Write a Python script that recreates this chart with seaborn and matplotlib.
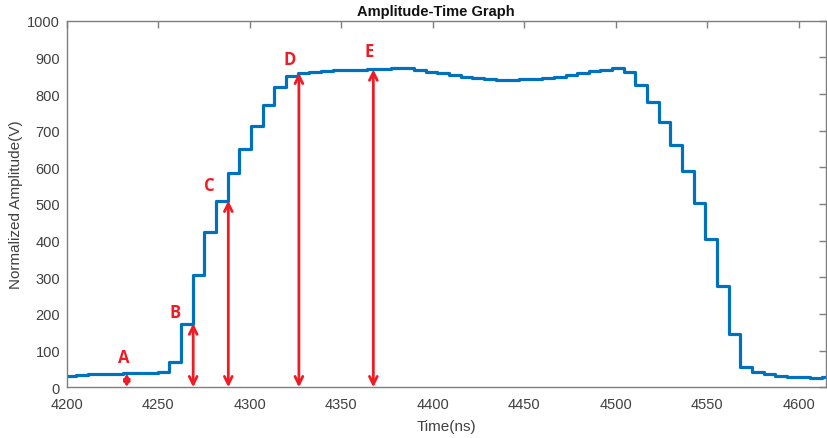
import matplotlib
matplotlib.use("Agg")
import matplotlib.pyplot as plt
from matplotlib import font_manager
import seaborn as sns
import pandas as pd

# ---- data ----
time_ns = [4198.7, 4205.0, 4211.4, 4217.8, 4224.2, 4230.5, 4236.9, 4243.3, 4249.6,
           4256.0, 4262.4, 4268.7, 4275.1, 4281.5, 4287.9, 4294.2, 4300.6, 4307.0,
           4313.3, 4319.7, 4326.1, 4332.4, 4338.8, 4345.2, 4351.6, 4357.9, 4364.3,
           4370.7, 4377.0, 4383.4, 4389.8, 4396.1, 4402.5, 4408.9, 4415.3, 4421.6,
           4428.0, 4434.4, 4440.7, 4447.1, 4453.5, 4459.8, 4466.2, 4472.6, 4479.0,
           4485.3, 4491.7, 4498.1, 4504.4, 4510.8, 4517.2, 4523.5, 4529.9, 4536.3,
           4542.7, 4549.0, 4555.4, 4561.8, 4568.1, 4574.5, 4580.9, 4587.2, 4593.6,
           4600.0, 4606.4, 4612.7, 4619.1]
amplitude = [31, 33, 35, 36, 37, 38, 39, 40, 41,
             69, 174, 306, 423, 509, 584, 650, 713, 771,
             820, 850, 858, 860, 862, 865, 866, 866, 867,
             869, 872, 870, 865, 861, 857, 852, 847, 843,
             840, 838, 839, 841, 842, 843, 846, 852, 857,
             862, 866, 870, 859, 825, 779, 724, 661, 589,
             504, 404, 277, 145, 54, 41, 36, 32, 28,
             27, 26, 29, 29]

marker_labels = ["A", "B", "C", "D", "E"]
marker_x = [4232.7, 4269.0, 4288.2, 4326.8, 4367.5]
marker_top = [38, 174, 509, 858, 867]

x_ticks = [4200, 4250, 4300, 4350, 4400, 4450, 4500, 4550, 4600]
y_ticks = [0, 100, 200, 300, 400, 500, 600, 700, 800, 900, 1000]

title = "Amplitude-Time Graph"
x_label = "Time(ns)"
y_label = "Normalized Amplitude(V)"

# label offsets (points) relative to arrow tip - styling only
label_offsets = [(-2, 12), (-13, 8), (-14, 11), (-6.5, 10), (-3, 13)]
head_scales = [9, 14, 14, 14, 14]

# ---- style ----
sns.set_style("white")
names = {f.name for f in font_manager.fontManager.ttflist}
base_font = "Liberation Sans Narrow" if "Liberation Sans Narrow" in names else "Liberation Sans"
plt.rcParams["font.family"] = [base_font, "DejaVu Sans"]

line_color = "#0072BD"
red = "#EE1C25"
axis_gray = "#7F7F7F"
text_gray = "#404040"

fig = plt.figure(figsize=(8.27, 4.39), dpi=100)
ax = fig.add_axes([0.081, 0.1155, 0.9178, 0.8351])

df = pd.DataFrame({"time": time_ns, "amp": amplitude})
sns.lineplot(data=df, x="time", y="amp", ax=ax, color=line_color, linewidth=2.3,
             drawstyle="steps-post", estimator=None, sort=False)

for lab, xm, top, off, hs in zip(marker_labels, marker_x, marker_top, label_offsets, head_scales):
    ax.annotate("", xy=(xm, top), xytext=(xm, 0),
                arrowprops=dict(arrowstyle="<->", color=red, lw=2,
                                shrinkA=0, shrinkB=0, mutation_scale=hs))
    ax.annotate(lab, xy=(xm, top), xytext=off,
                textcoords="offset points", ha="center", va="center",
                color=red, fontsize=12, fontweight="bold",
                family=["Open Sans", "DejaVu Sans"])

ax.set_xlim(4200, 4615)
ax.set_ylim(0, 1000)
ax.set_xticks(x_ticks)
ax.set_yticks(y_ticks)
ax.tick_params(direction="in", length=5, width=1, color=axis_gray,
               labelcolor=text_gray, labelsize=10.5, top=True, right=True,
               labeltop=False, labelright=False)
ax.tick_params(axis="x", pad=7)
ax.tick_params(axis="y", pad=5)
for s in ax.spines.values():
    s.set_color(axis_gray)
    s.set_linewidth(1)

ax.set_title(title, fontsize=10.5, fontweight="bold", color="#111111", pad=4, x=0.486)
ax.set_xlabel(x_label, fontsize=11, color=text_gray, labelpad=6)
ax.set_ylabel(y_label, fontsize=11, color=text_gray, labelpad=3)

fig.savefig("out.png", dpi=100)
